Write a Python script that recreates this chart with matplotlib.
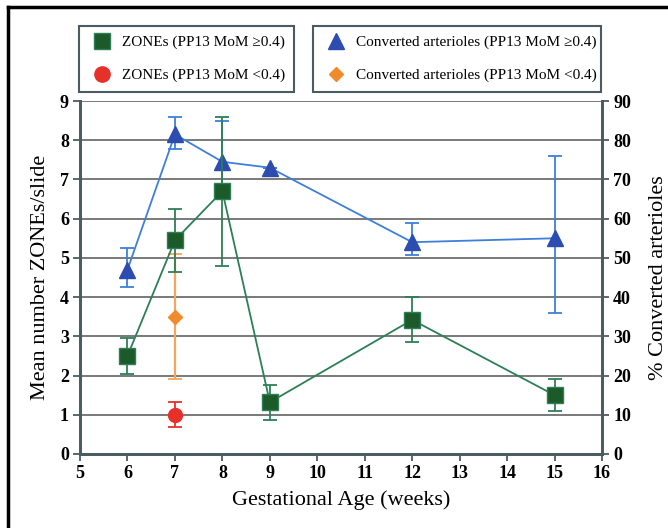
import matplotlib.pyplot as plt
from matplotlib.lines import Line2D

# Gestational age (weeks)
weeks = [6, 7, 8, 9, 12, 15]

# ZONEs per slide, PP13 MoM >= 0.4
zones_hi = [2.5, 5.45, 6.7, 1.32, 3.42, 1.5]
zones_hi_err = [0.45, 0.8, 1.9, 0.45, 0.57, 0.4]

# ZONEs per slide, PP13 MoM < 0.4
weeks_lo = [7]
zones_lo = [1.0]
zones_lo_err = [0.32]

# % converted arterioles, PP13 MoM >= 0.4 (lower / upper error)
conv_hi = [47, 81.5, 74.5, 73, 54, 55]
conv_hi_down = [4.5, 3.8, 7.5, 0, 3.2, 19]
conv_hi_up = [5.5, 4.5, 10.5, 0, 4.8, 21]

# % converted arterioles, PP13 MoM < 0.4
conv_lo = [35]
conv_lo_err = [16]

x_ticks = list(range(5, 17))
left_ticks = list(range(0, 10))
right_ticks = list(range(0, 100, 10))

labels_left = ["ZONEs (PP13 MoM \u22650.4)", "ZONEs (PP13 MoM <0.4)"]
labels_right = ["Converted arterioles (PP13 MoM \u22650.4)",
                "Converted arterioles (PP13 MoM <0.4)"]

plt.rcParams['font.family'] = ['Liberation Serif', 'DejaVu Serif']

green_fill = "#1d5a2a"
green_line = "#2d7f57"
blue_fill = "#2c4cb0"
blue_line = "#3f7fd8"
red = "#e8302a"
orange = "#f08a2c"
orange_err = "#f6a55a"
spine_col = "#4a5c62"
grid_col = "#6e6e6e"

fig = plt.figure(figsize=(6.68, 5.28), dpi=100)
fig.patch.set_facecolor("white")

ax2 = fig.add_axes([0.1198, 0.1402, 0.7814, 0.6685])
ax = ax2.twinx()
ax2.yaxis.tick_right()
ax2.yaxis.set_label_position("right")
ax.yaxis.tick_left()
ax.yaxis.set_label_position("left")
ax.set_zorder(ax2.get_zorder() + 1)
ax.patch.set_visible(False)
ax2.set_facecolor("white")

# right axis series (behind)
ax2.errorbar(weeks, conv_hi, yerr=[conv_hi_down, conv_hi_up], color=blue_line, lw=1.3,
             elinewidth=1.3, capsize=5, capthick=1.3, marker="^", ms=12,
             mfc=blue_fill, mec=blue_fill, zorder=3)
ax2.errorbar(weeks_lo, conv_lo, yerr=conv_lo_err, color=orange_err, lw=1.3,
             elinewidth=1.6, capsize=5, capthick=1.3, fmt="none", zorder=3)
ax2.plot(weeks_lo, conv_lo, "D", ms=7, color=orange, zorder=4)

# left axis series (front)
ax.errorbar(weeks, zones_hi, yerr=zones_hi_err, color=green_line, lw=1.3,
            elinewidth=1.3, capsize=5, capthick=1.3, marker="s", ms=11,
            mfc=green_fill, mec=green_line, zorder=3)
ax.errorbar(weeks_lo, zones_lo, yerr=zones_lo_err, color=red, lw=1.3,
            elinewidth=1.3, capsize=5, capthick=1.3, marker="o", ms=10,
            mfc=red, mec=red, zorder=3)

ax.set_xlim(5, 16)
ax.set_ylim(0, 9)
ax2.set_ylim(0, 90)
ax2.set_xticks(x_ticks)
ax.set_yticks(left_ticks)
ax2.set_yticks(right_ticks)
ax2.yaxis.grid(True, color=grid_col, lw=1.3, zorder=0)
ax2.set_axisbelow(True)

for a in (ax, ax2):
    for side in ("left", "right", "bottom"):
        a.spines[side].set_color(spine_col)
        a.spines[side].set_linewidth(2)
    a.spines["top"].set_visible(False)
    a.tick_params(direction="out", length=5, width=1.3, color=spine_col,
                  labelsize=13, pad=3)
    for lab in a.get_xticklabels() + a.get_yticklabels():
        lab.set_fontweight("bold")

ax.set_ylabel("Mean number ZONEs/slide", fontsize=16, labelpad=7)
ax2.set_ylabel("% Converted arterioles", fontsize=16, labelpad=13)
ax2.set_xlabel("Gestational Age (weeks)", fontsize=16, labelpad=6)

h_left = [Line2D([], [], ls="none", marker="s", ms=11, mfc=green_fill, mec=green_line),
          Line2D([], [], ls="none", marker="o", ms=11, mfc=red, mec=red)]
h_right = [Line2D([], [], ls="none", marker="^", ms=12, mfc=blue_fill, mec=blue_fill),
           Line2D([], [], ls="none", marker="D", ms=7, mfc=orange, mec=orange)]

for handles, labels, x0, x1 in ((h_left, labels_left, 79, 294),
                                (h_right, labels_right, 313, 601)):
    leg = fig.legend(handles, labels, loc="center left",
                     bbox_to_anchor=(x0 / 668, 1 - 93 / 528, (x1 - x0) / 668, 68 / 528),
                     mode="expand", fontsize=11, frameon=True, fancybox=False,
                     edgecolor=spine_col, framealpha=1, borderpad=0.6,
                     labelspacing=1.25, handlelength=1.8, handletextpad=0.4,
                     borderaxespad=0)
    leg.get_frame().set_linewidth(1.5)

# outer frame (top and left edges of the cropped figure border)
fig.add_artist(Line2D([8 / 668, 1], [1 - 7 / 528, 1 - 7 / 528], color="black", lw=2.5,
                      transform=fig.transFigure))
fig.add_artist(Line2D([8 / 668, 8 / 668], [0, 1 - 7 / 528], color="black", lw=2.5,
                      transform=fig.transFigure))

fig.savefig("out.png", dpi=100)
